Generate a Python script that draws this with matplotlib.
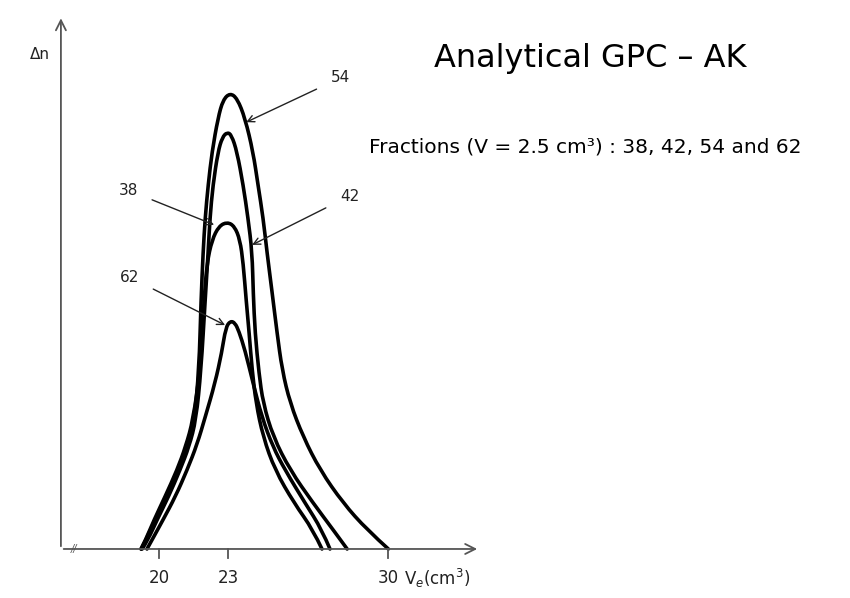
import matplotlib
matplotlib.use('Agg')
import matplotlib.pyplot as plt
from matplotlib.path import Path
from matplotlib.patches import PathPatch

# Elution volume Ve (cm3) and refractive index difference (arbitrary units)
v54 = [19.2, 19.42, 19.81, 20.3, 20.82, 21.2, 21.52, 21.73, 21.82, 21.91, 22.0, 22.13, 22.3, 22.56, 22.78, 23.09,
       23.4, 23.74, 24.09, 24.31, 24.53, 24.7, 24.92, 25.14, 25.36, 25.71, 26.28, 27.02, 28.02, 29.07, 30.0]
h54 = [0, 2.0, 6.4, 11.5, 17.3, 22.5, 28.3, 39.3, 54.6, 65.1, 72.6, 79.8, 87.1, 94.5, 98.5, 100,
       98.8, 94.5, 87.1, 79.8, 72.6, 65.1, 56.4, 47.4, 39.3, 32.0, 24.6, 17.3, 10.1, 4.2, 0]

v42 = [19.25, 19.5, 19.9, 20.4, 20.9, 21.3, 21.6, 21.82, 22.0, 22.13, 22.21, 22.34, 22.56, 22.75, 22.96,
       23.15, 23.39, 23.66, 23.87, 24.05, 24.1, 24.18, 24.35, 24.53, 24.97, 25.71, 26.71, 27.59, 28.2]
h42 = [0, 2.0, 6.4, 11.5, 17.3, 22.5, 28.3, 39.3, 54.6, 65.1, 72.6, 79.8, 87.1, 90.3, 91.4,
       90.8, 87.1, 79.8, 72.6, 65.1, 56.0, 47.4, 38.5, 32.0, 24.6, 17.3, 10.1, 4.2, 0]

v38 = [19.2, 19.4, 19.77, 20.25, 20.77, 21.15, 21.47, 21.78, 21.95, 22.08, 22.3, 22.6, 22.96,
       23.28, 23.52, 23.66, 23.79, 23.92, 24.05, 24.22, 24.53, 25.05, 25.88, 26.71, 27.1]
h38 = [0, 2.0, 6.4, 11.5, 17.3, 22.5, 28.3, 39.3, 54.6, 62.7, 67.8, 70.8, 71.7,
       70.8, 67.8, 62.7, 54.6, 47.4, 39.3, 32.0, 24.6, 17.3, 10.1, 4.2, 0]

v62 = [19.46, 19.68, 20.16, 20.7, 21.21, 21.65, 22.0, 22.43, 22.72, 22.9, 23.1,
       23.3, 23.47, 23.74, 24.09, 24.48, 24.95, 25.49, 26.36, 27.1, 27.45]
h62 = [0, 2.0, 6.4, 11.5, 17.3, 23.0, 28.9, 36.4, 43.0, 48.6, 50.0,
       49.6, 47.8, 43.6, 36.4, 28.9, 22.5, 17.3, 10.1, 4.2, 0]

tick_values = [20, 23, 30]
tick_labels = ['20', '23', '30']


def smooth_curve(xs, ys):
    # quadratic b-spline through the read points (drawing only)
    pts = list(zip(xs, ys))
    verts = [pts[0]]
    codes = [Path.MOVETO]
    n = len(pts)
    for i in range(1, n - 1):
        if i < n - 2:
            end = ((pts[i][0] + pts[i + 1][0]) / 2, (pts[i][1] + pts[i + 1][1]) / 2)
        else:
            end = pts[n - 1]
        verts += [pts[i], end]
        codes += [Path.CURVE3, Path.CURVE3]
    return Path(verts, codes)


fig = plt.figure(figsize=(8.5, 5.98), dpi=100)
ax = fig.add_axes([0, 0, 1, 1])
ax.set_xlim(13.04, 50.16)
ax.set_ylim(-10.75, 120.4)
ax.axis('off')

for v, h in [(v54, h54), (v42, h42), (v38, h38), (v62, h62)]:
    ax.add_patch(PathPatch(smooth_curve(v, h), fill=False, edgecolor='black', lw=2.6,
                           capstyle='round', joinstyle='round'))

# axes with arrows
axis_col = '#555555'
ax.annotate('', xy=(15.7, 117), xytext=(15.7, 0),
            arrowprops=dict(arrowstyle='->', color=axis_col, lw=1.3, mutation_scale=18))
ax.annotate('', xy=(34.0, 0), xytext=(15.7, 0),
            arrowprops=dict(arrowstyle='->', color=axis_col, lw=1.3, mutation_scale=18))
ax.text(16.25, 0, '//', fontsize=7, color=axis_col, ha='center', va='center', style='italic')

for t, lab in zip(tick_values, tick_labels):
    ax.plot([t, t], [0, -1.9], color=axis_col, lw=1.3)
    ax.text(t, -6.4, lab, fontsize=12, ha='center', va='center', color='#222222')
ax.text(30.7, -6.4, r'V$_e$(cm$^3$)', fontsize=12, ha='left', va='center', color='#222222')
ax.text(14.8, 108.4, 'Δn', fontsize=11, ha='center', va='center', color='#222222')

# fraction labels with arrows
labels = [('54', (27.9, 103.3), (23.79, 93.6)),
          ('42', (28.3, 77.4), (24.05, 66.7)),
          ('38', (18.63, 78.7), (22.39, 71.1)),
          ('62', (18.7, 59.6), (22.87, 49.1))]
for name, txt_pos, tip in labels:
    ax.annotate(name, xy=tip, xytext=txt_pos, fontsize=11, ha='center', va='center',
                color='#222222',
                arrowprops=dict(arrowstyle='->', color='#222222', lw=1.0,
                                shrinkA=9, shrinkB=0, mutation_scale=12))

ax.text(0.694, 0.903, 'Analytical GPC – AK', transform=ax.transAxes,
        fontsize=23, ha='center', va='center', color='black')
ax.text(0.688, 0.754, 'Fractions (V = 2.5 cm³) : 38, 42, 54 and 62', transform=ax.transAxes,
        fontsize=14.5, ha='center', va='center', color='black')

fig.savefig('out.png', dpi=100)
